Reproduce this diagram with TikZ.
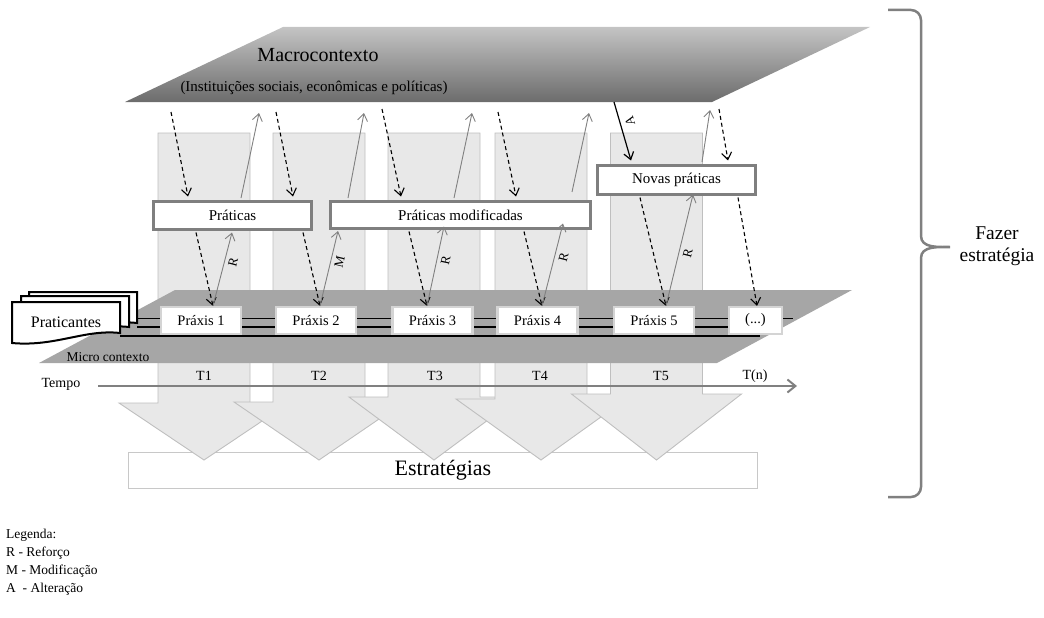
\documentclass[tikz,border=0pt]{standalone}
\usepackage{fontspec}
\setmainfont{Liberation Serif}
\usetikzlibrary{arrows.meta,calc}
\definecolor{macroT}{HTML}{C4C4C4}
\definecolor{macroB}{HTML}{6C6C6C}
\definecolor{colfill}{HTML}{E8E8E8}
\definecolor{colline}{HTML}{BFBFBF}
\definecolor{microfill}{HTML}{A6A6A6}
\definecolor{boxline}{HTML}{7F7F7F}
\definecolor{praxline}{HTML}{D4D4D4}
\definecolor{arrgrey}{HTML}{808080}
\definecolor{estline}{HTML}{C8C8C8}
\newcommand\fsz[1]{\fontsize{#1}{#1}\selectfont}
\begin{document}
\begin{tikzpicture}[x=1pt,y=-1pt,
  every node/.style={inner sep=0pt},
  colbox/.style={fill=colfill, draw=colline, line width=0.9pt},
  praxis/.style={draw=praxline, line width=2.2pt, fill=white, minimum width=80pt, minimum height=27pt, font=\fsz{14.5}},
  topbox/.style={draw=boxline, line width=3pt, fill=white, minimum height=28pt, font=\fsz{15}},
  dasharr/.style={black, line width=1.1pt, dash pattern=on 4pt off 3pt, -{Straight Barb[length=7pt,width=10pt]}},
  greyarr/.style={draw=arrgrey, line width=0.9pt, -{Straight Barb[length=7pt,width=10pt]}},
  blackarr/.style={black, line width=1.2pt, -{Straight Barb[length=7pt,width=10pt]}},
  lbl/.style={font=\fsz{13}, sloped, below=4pt},
  sheet/.style={draw=black, line width=2pt, fill=white},
  tlabel/.style={font=\fsz{14}},
  legend/.style={font=\fsz{13.5}, anchor=west}
]
\useasboundingbox (0,0) rectangle (1044,618);

% Estrategias box
\node[draw=estline, line width=1.2pt, fill=white, minimum width=629pt, minimum height=36pt, font=\fsz{22}] (estr) at (443,470.5) {Estratégias};

% block arrows (columns)
\foreach \cx/\yh in {204/403,319/402,434/397,541/399,656.5/394}{
  \draw[colbox] (\cx-46,133) -- (\cx+46,133) -- (\cx+46,\yh) -- (\cx+85,\yh) -- (\cx,460) -- (\cx-85,\yh) -- (\cx-46,\yh) -- cycle;
}

% Macro context
\shade[top color=macroT, bottom color=macroB] (283,27) -- (870,27) -- (712,102) -- (125,102) -- cycle;
\node[font=\fsz{20}] (macro) at (318,55) {Macrocontexto};
\node[font=\fsz{15}] (inst) at (314,88) {(Instituições sociais, econômicas e políticas)};

% Micro context
\fill[microfill] (175,290) -- (852,290) -- (717,363) -- (39,363) -- cycle;
\node[font=\fsz{13.5}] (micro) at (108,357) {Micro contexto};

\draw[line width=0.8pt] (137,318) -- (793,318);
\draw[line width=1.6pt] (137,327) -- (775,327);
\draw[line width=2pt] (120,336) -- (760,336);

% Praticantes
\foreach \dx/\dy in {17/-10,9/-6,0/0}{
  \draw[sheet, shift={(\dx,\dy)}] (12,302) -- (120,302) -- (120,333) .. controls (85,329) and (55,347) .. (12,343) -- cycle;
}
\node[font=\fsz{16}] (prac) at (66,322) {Praticantes};

% Praxis
\node[praxis] (p1) at (201,320.5) {Práxis 1};
\node[praxis] (p2) at (316,320.5) {Práxis 2};
\node[praxis] (p3) at (432.5,320.5) {Práxis 3};
\node[praxis] (p4) at (537.5,320.5) {Práxis 4};
\node[praxis] (p5) at (654,320.5) {Práxis 5};
\node[praxis, minimum width=53pt] (p6) at (755.5,320.5) {(...)};

% Top boxes
\node[topbox, minimum width=158pt] (prat) at (232.5,215.5) {Práticas};
\node[topbox, minimum width=260pt, minimum height=27pt] (pmod) at (460.5,215) {Práticas modificadas};
\node[topbox, minimum width=158pt, minimum height=29pt] (nova) at (676.5,180) {Novas práticas};

% coordinates under the macro context
\coordinate (mA1) at (171,112);
\coordinate (mA2) at (276,112);
\coordinate (mA3) at (382,109);
\coordinate (mA4) at (498,112);
\coordinate (mA5) at (719,109);
\coordinate (mG1) at (259,113);
\coordinate (mG2) at (364,113);
\coordinate (mG3) at (472,113);
\coordinate (mG4) at (589,113);
\coordinate (mG5) at (710,110);
\coordinate (mA) at (614,102);

% macro -> boxes (dashed)
\draw[dasharr] (mA1) -- ([xshift=-44.5pt,yshift=3.5pt]prat.north);
\draw[dasharr] (mA2) -- ([xshift=60.5pt,yshift=3.5pt]prat.north);
\draw[dasharr] (mA3) -- ([xshift=-59.5pt,yshift=3.5pt]pmod.north);
\draw[dasharr] (mA4) -- ([xshift=55.5pt,yshift=3.5pt]pmod.north);
\draw[dasharr] (mA5) -- ([xshift=51.5pt,yshift=3.5pt]nova.north);

% boxes -> macro (grey)
\draw[greyarr] ([xshift=8.5pt,yshift=2pt]prat.north) -- (mG1);
\draw[greyarr] ([xshift=-112.5pt,yshift=2pt]pmod.north) -- (mG2);
\draw[greyarr] ([xshift=-6.5pt,yshift=2pt]pmod.north) -- (mG3);
\draw[greyarr] ([xshift=111.5pt,yshift=8pt]pmod.north) -- (mG4);
\draw[greyarr] ([xshift=25.5pt,yshift=2pt]nova.north) -- (mG5);

% alteration
\draw[blackarr] (mA) -- ([xshift=-45.5pt,yshift=3.5pt]nova.north);
\node[font=\fsz{13}, rotate=106] (albl) at (630,121) {A};

% boxes -> praxis (dashed)
\draw[dasharr] ([xshift=-36.5pt,yshift=-1.5pt]prat.south) -- ([xshift=12pt]p1.north);
\draw[dasharr] ([xshift=70.5pt,yshift=-1.5pt]prat.south) -- ([xshift=4pt]p2.north);
\draw[dasharr] ([xshift=-51.5pt,yshift=-1.5pt]pmod.south) -- ([xshift=-5.5pt]p3.north);
\draw[dasharr] ([xshift=63.5pt,yshift=-1.5pt]pmod.south) -- ([xshift=4.5pt]p4.north);
\draw[dasharr] ([xshift=-36.5pt,yshift=-1.5pt]nova.south) -- ([xshift=12pt]p5.north);
\draw[dasharr] ([xshift=61.5pt,yshift=-1.5pt]nova.south) -- ([xshift=1.5pt]p6.north);

% praxis -> boxes (grey)
\draw[greyarr] ([xshift=12pt]p1.north) -- node[lbl, pos=0.62] {R} ([xshift=-0.5pt,yshift=-1.5pt]prat.south);
\draw[greyarr] ([xshift=4pt]p2.north) -- node[lbl, pos=0.62] {M} ([xshift=-122.5pt,yshift=-1pt]pmod.south);
\draw[greyarr] ([xshift=-5.5pt]p3.north) -- node[lbl, pos=0.6] {R} ([xshift=-16.5pt,yshift=3.5pt]pmod.south);
\draw[greyarr] ([xshift=4.5pt]p4.north) -- node[lbl, pos=0.62] {R} ([xshift=102.5pt,yshift=6.5pt]pmod.south);
\draw[greyarr] ([xshift=12pt]p5.north) -- node[lbl, pos=0.49] {R} ([xshift=16.5pt,yshift=1.5pt]nova.south);

% time axis
\node[tlabel] (tempo) at (61,384) {Tempo};
\coordinate (t0) at (98,386);
\coordinate (tn) at (797,386);
\draw[draw=arrgrey, line width=2pt, -{Straight Barb[length=8pt,width=13pt]}] (t0) -- (tn);
\node[tlabel] (T1) at (204,376) {T1};
\node[tlabel] (T2) at (319,376) {T2};
\node[tlabel] (T3) at (435,376) {T3};
\node[tlabel] (T4) at (540,376) {T4};
\node[tlabel] (T5) at (661,376) {T5};
\node[tlabel] (Tn) at (755,376) {T(n)};

% brace
\draw[draw=arrgrey, line width=2.5pt] (888,10) -- (911,10) to[out=0,in=90] (921,20) -- (921,236) to[out=-90,in=180] (950,247) to[out=180,in=90] (921,258) -- (921,487) to[out=-90,in=0] (911,497) -- (888,497);
\node[font=\fsz{19.5}, align=center] (fazer) at (997,246) {Fazer\\[2pt]estratégia};

% legend
\node[legend] (leg0) at (6,535) {Legenda:};
\node[legend] (leg1) at (6,553) {R - Reforço};
\node[legend] (leg2) at (6,571) {M - Modificação};
\node[legend] (leg3) at (6,589) {A \ - Alteração};
\end{tikzpicture}
\end{document}
